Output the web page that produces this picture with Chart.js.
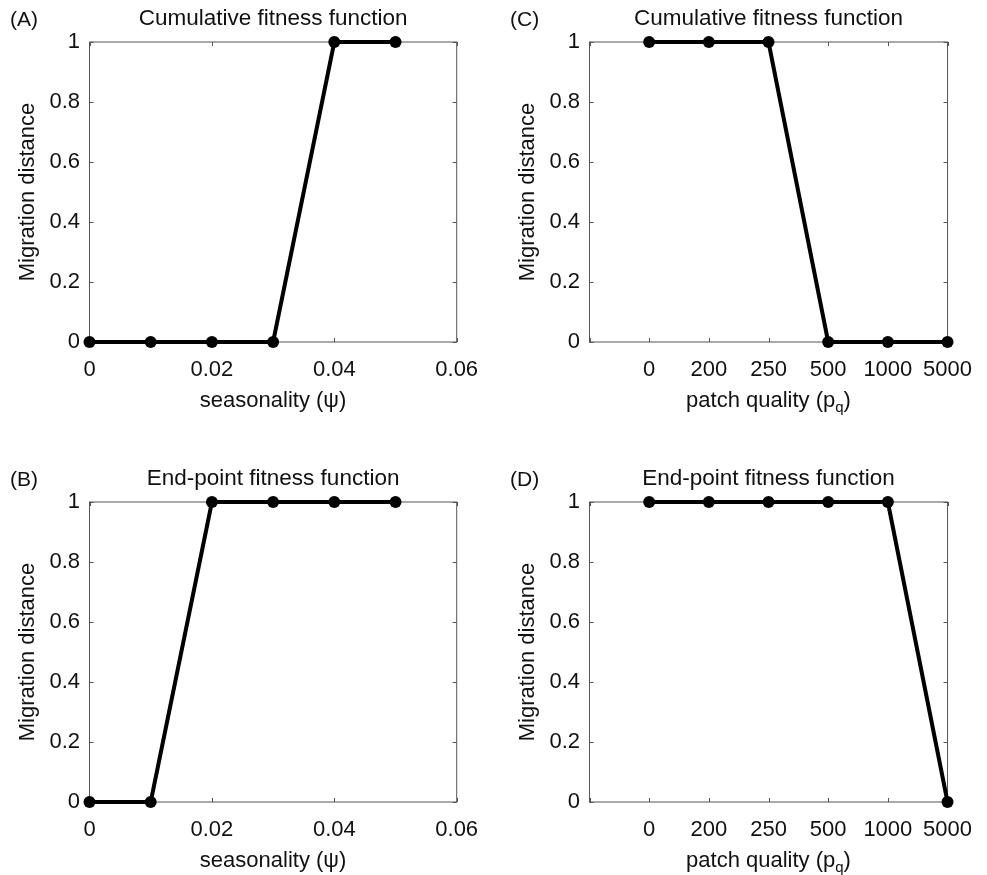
<!DOCTYPE html>
<html>
<head>
<meta charset="utf-8">
<script src="https://cdn.jsdelivr.net/npm/chart.js@4.4.0/dist/chart.umd.min.js"></script>
<style>
html, body { margin: 0; padding: 0; background: #fff; overflow: hidden; }
#wrap { position: relative; width: 987px; height: 875px; }
.panel { position: absolute; }
</style>
</head>
<body>
<div id="wrap">
  <div class="panel" style="left:0;top:0;width:500px;height:460px"><canvas id="chartA"></canvas></div>
  <div class="panel" style="left:500px;top:0;width:487px;height:460px"><canvas id="chartC"></canvas></div>
  <div class="panel" style="left:0;top:460px;width:500px;height:460px"><canvas id="chartB"></canvas></div>
  <div class="panel" style="left:500px;top:460px;width:487px;height:460px"><canvas id="chartD"></canvas></div>
</div>
<script>
// seasonality panels (A, B)
var seasonality = [0, 0.01, 0.02, 0.03, 0.04, 0.05];
var cumSeason = [0, 0, 0, 0, 1, 1];
var endSeason = [0, 0, 1, 1, 1, 1];

// patch quality panels (C, D) - categorical, first slot left empty
var patchLabels = ['0', '200', '250', '500', '1000', '5000'];
var cumPatch = [1, 1, 1, 0, 0, 0];
var endPatch = [1, 1, 1, 1, 1, 0];

var yTicks = [0, 0.2, 0.4, 0.6, 0.8, 1];

var FONT = 'Liberation Sans, Arial, Helvetica, sans-serif';
var TXT = '#111';

// matlab style box with inward ticks
var boxPlugin = {
    id: 'boxTicks',
    beforeDatasetsDraw: function (chart) {
        var ctx = chart.ctx;
        var a = chart.chartArea;
        var xs = chart.scales.x, ys = chart.scales.y;
        var len = 4;
        ctx.save();
        ctx.strokeStyle = '#555';
        ctx.lineWidth = 1;
        ctx.strokeRect(a.left, a.top, a.right - a.left, a.bottom - a.top);
        ctx.beginPath();
        xs.ticks.forEach(function (t, i) {
            var px = Math.round(xs.getPixelForTick(i)) + 0.5;
            ctx.moveTo(px, a.bottom); ctx.lineTo(px, a.bottom - len);
            ctx.moveTo(px, a.top); ctx.lineTo(px, a.top + len);
        });
        ys.ticks.forEach(function (t, i) {
            var py = Math.round(ys.getPixelForTick(i)) + 0.5;
            ctx.moveTo(a.left, py); ctx.lineTo(a.left + len, py);
            ctx.moveTo(a.right, py); ctx.lineTo(a.right - len, py);
        });
        ctx.stroke();
        ctx.restore();
    },
    afterDraw: function (chart) {
        var o = chart.options.plugins.boxTicks;
        var ctx = chart.ctx;
        var a = chart.chartArea;
        ctx.save();
        ctx.fillStyle = TXT;
        ctx.textBaseline = 'middle';
        ctx.textAlign = 'left';
        ctx.font = '21px ' + FONT;
        ctx.fillText(o.letter, 10, 20);

        // x axis title, with optional subscript part
        var parts = o.xTitle;
        var widths = parts.map(function (p) {
            ctx.font = (p.sub ? '15px ' : '22px ') + FONT;
            return ctx.measureText(p.t).width;
        });
        var total = widths.reduce(function (s, w) { return s + w; }, 0);
        var x = (a.left + a.right) / 2 - total / 2;
        ctx.textBaseline = 'alphabetic';
        parts.forEach(function (p, i) {
            ctx.font = (p.sub ? '15px ' : '22px ') + FONT;
            ctx.fillText(p.t, x, 407 + (p.sub ? 5 : 0));
            x += widths[i];
        });
        ctx.restore();
    }
};

function makeChart(id, letter, title, xScale, data, xTitle, rightPad) {
    return new Chart(document.getElementById(id), {
        type: 'line',
        data: data,
        options: {
            responsive: true,
            maintainAspectRatio: false,
            animation: false,
            layout: { padding: { left: 0, right: rightPad, top: 0, bottom: 0 } },
            elements: {
                line: { borderColor: '#000', borderWidth: 4, tension: 0 },
                point: { radius: 6, backgroundColor: '#000', borderWidth: 0 }
            },
            scales: {
                x: xScale,
                y: {
                    min: 0, max: 1,
                    afterBuildTicks: function (s) { s.ticks = yTicks.map(function (v) { return { value: v }; }); },
                    afterFit: function (s) { s.width = 89.5; },
                    grid: { display: false, drawTicks: false },
                    border: { display: false },
                    ticks: {
                        padding: 9.5, color: TXT, font: { family: FONT, size: 22 },
                        callback: function (v) { return String(v); }
                    },
                    title: {
                        display: true, text: 'Migration distance', color: TXT,
                        font: { family: FONT, size: 22 }, padding: { top: 15, bottom: 0 }
                    }
                }
            },
            plugins: {
                legend: { display: false },
                tooltip: { enabled: false },
                title: {
                    display: true, text: title, fullSize: false, color: TXT,
                    font: { family: FONT, size: 22.5, weight: 'normal' },
                    padding: { top: 5, bottom: 10 }
                },
                boxTicks: { letter: letter, xTitle: xTitle }
            }
        },
        plugins: [boxPlugin]
    });
}

function xAxisCommon(extra) {
    var base = {
        afterFit: function (s) { s.height = 118; },
        grid: { display: false, drawTicks: false },
        border: { display: false },
        ticks: { padding: 15, color: TXT, autoSkip: false, maxRotation: 0, font: { family: FONT, size: 22 } }
    };
    return Object.assign(base, extra);
}

function seasonData(values) {
    return {
        datasets: [{
            data: seasonality.map(function (x, i) { return { x: x, y: values[i] }; }),
            clip: false
        }]
    };
}

function patchData(values) {
    return {
        labels: [''].concat(patchLabels),
        datasets: [{ data: [null].concat(values), clip: false }]
    };
}

var seasonAxis = function () {
    var ax = xAxisCommon({ type: 'linear', min: 0, max: 0.06 });
    ax.ticks.stepSize = 0.02;
    return ax;
};
var patchAxis = function () {
    return xAxisCommon({ type: 'category', offset: false });
};

var seasonTitle = [{ t: 'seasonality (\u03c8)' }];
var patchTitle = [{ t: 'patch quality (p' }, { t: 'q', sub: true }, { t: ')' }];

makeChart('chartA', '(A)', 'Cumulative fitness function', seasonAxis(), seasonData(cumSeason), seasonTitle, 43.3);
makeChart('chartB', '(B)', 'End-point fitness function', seasonAxis(), seasonData(endSeason), seasonTitle, 43.3);
makeChart('chartC', '(C)', 'Cumulative fitness function', patchAxis(), patchData(cumPatch), patchTitle, 30.3);
makeChart('chartD', '(D)', 'End-point fitness function', patchAxis(), patchData(endPatch), patchTitle, 30.3);
</script>
</body>
</html>
